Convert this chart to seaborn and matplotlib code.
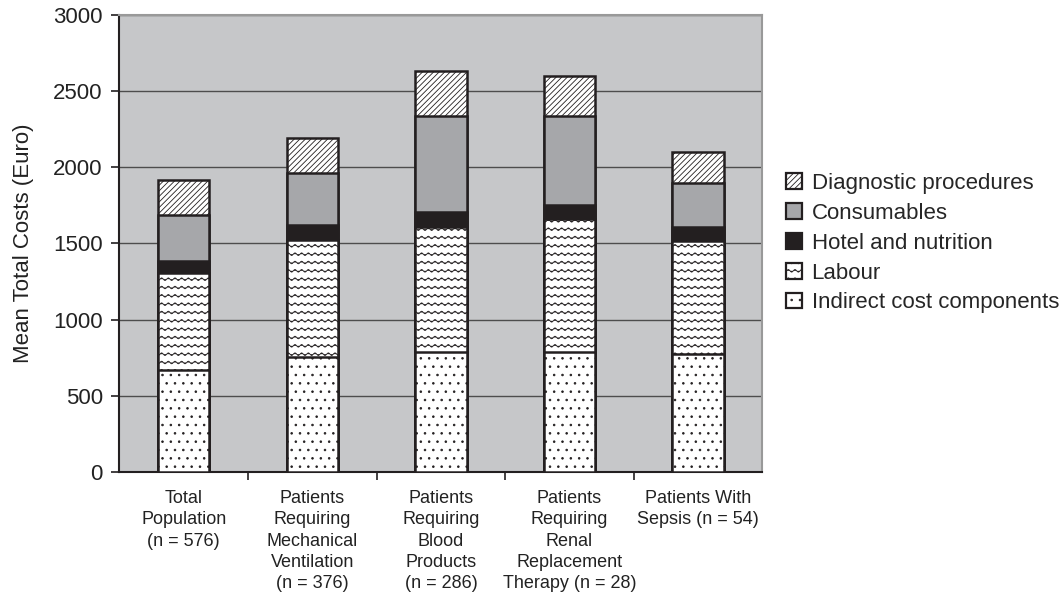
import numpy as np
import matplotlib
matplotlib.use("Agg")
import matplotlib.pyplot as plt
import matplotlib.hatch as mhatch
from matplotlib.path import Path
from matplotlib.patches import Patch
import seaborn as sns

# Data (mean costs per patient, Euro)
groups = ["Total\nPopulation\n(n = 576)",
          "Patients\nRequiring\nMechanical\nVentilation\n(n = 376)",
          "Patients\nRequiring\nBlood\nProducts\n(n = 286)",
          "Patients\nRequiring\nRenal\nReplacement\nTherapy (n = 28)",
          "Patients With\nSepsis (n = 54)"]
indirect = [670, 755, 790, 790, 775]
labour = [636, 768, 816, 869, 743]
hotel = [81, 98, 101, 94, 92]
consumables = [300, 344, 630, 584, 289]
diagnostic = [230, 230, 295, 263, 204]

components = ["Indirect cost components", "Labour", "Hotel and nutrition",
              "Consumables", "Diagnostic procedures"]
values = [indirect, labour, hotel, consumables, diagnostic]

dark = "#231f20"
styles = {
    "Indirect cost components": dict(facecolor="white", hatch=".."),
    "Labour": dict(facecolor="white", hatch="oo"),  # 'o' is remapped to a wavy hatch below
    "Hotel and nutrition": dict(facecolor=dark, hatch=None),
    "Consumables": dict(facecolor="#a6a7aa", hatch=None),
    "Diagnostic procedures": dict(facecolor="white", hatch="//////"),
}


# wavy hatch, used in place of the small circles one
class WavyHatch(mhatch.HatchPatternBase):
    def __init__(self, hatch, density):
        self.num_rows = int(hatch.count('o') * density)
        self.num_waves = 15
        self.pts = self.num_waves * 8 + 1
        self.num_vertices = self.num_rows * self.pts

    def set_vertices_and_codes(self, vertices, codes):
        if self.num_rows == 0:
            return
        xs = np.linspace(0, 1, self.pts)
        ys = np.linspace(0, 1, self.num_rows, endpoint=False) + 0.5 / self.num_rows
        for i, y in enumerate(ys):
            seg = slice(i * self.pts, (i + 1) * self.pts)
            vertices[seg, 0] = xs
            vertices[seg, 1] = y + 0.013 * np.sin(2 * np.pi * self.num_waves * xs)
            codes[seg] = Path.LINETO
            codes[i * self.pts] = Path.MOVETO


mhatch._hatch_types = [WavyHatch if t is mhatch.SmallCircles else t
                       for t in mhatch._hatch_types]

sns.set_style("white")
plt.rcParams['font.family'] = ['Liberation Sans', 'DejaVu Sans']
plt.rcParams['hatch.linewidth'] = 0.6

fig = plt.figure(figsize=(10.6, 5.96), dpi=100)
ax = fig.add_axes([0.1127, 0.208, 0.6065, 0.767])
ax.set_facecolor("#c6c7c9")

# stacked bars: draw cumulative totals from the top layer down
cum = np.cumsum(np.array(values), axis=0)
for i in range(len(components) - 1, -1, -1):
    st = styles[components[i]]
    sns.barplot(x=groups, y=cum[i], color=st["facecolor"], saturation=1,
                width=0.4, edgecolor=dark, linewidth=1.8, hatch=st["hatch"],
                ax=ax, zorder=3)

ax.set_ylim(0, 3000)
ax.set_xlim(-0.5, 4.5)
ax.set_yticks(np.arange(0, 3001, 500))
ax.yaxis.grid(True, color="#4d4d4d", linewidth=1.0, zorder=0)
ax.set_axisbelow(True)
ax.set_ylabel("Mean Total Costs (Euro)", fontsize=16, color="#222222", labelpad=14)
ax.set_xlabel("")

ax.set_xticks(range(len(groups)))
ax.set_xticklabels(groups, fontsize=13, color="#222222", linespacing=1.33)
ax.set_xticks(np.arange(0.5, 4.5, 1), minor=True)
ax.tick_params(axis="x", which="major", length=0, pad=13)
ax.tick_params(axis="x", which="minor", length=6, width=1.2, color=dark, direction="out", bottom=True)
ax.tick_params(axis="y", length=6, width=1.2, color=dark, direction="out", left=True,
               labelsize=16, labelcolor="#222222", pad=6)

for s in ["left", "bottom"]:
    ax.spines[s].set_color(dark)
    ax.spines[s].set_linewidth(1.5)
for s in ["top", "right"]:
    ax.spines[s].set_color("#999999")
    ax.spines[s].set_linewidth(1.5)

handles = [Patch(facecolor=styles[c]["facecolor"], edgecolor=dark, linewidth=1.6,
                 hatch=styles[c]["hatch"], label=c) for c in components[::-1]]
fig.legend(handles=handles, loc="center left", bbox_to_anchor=(0.7415, 0.592),
           frameon=False, fontsize=16, handlelength=0.7, handleheight=0.7,
           handletextpad=0.45, labelspacing=0.4, borderaxespad=0, borderpad=0)

plt.savefig("out.png", dpi=100)
plt.close(fig)
